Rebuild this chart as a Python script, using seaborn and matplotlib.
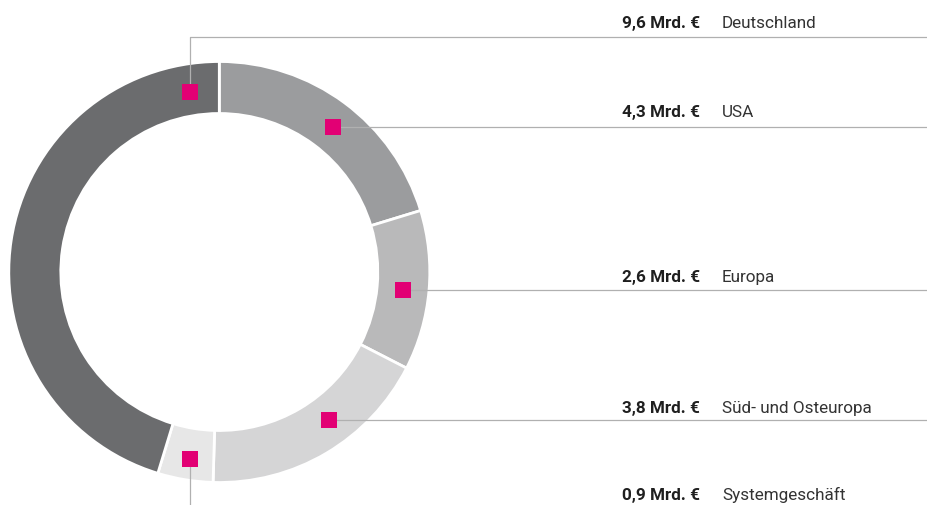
import matplotlib
matplotlib.use("Agg")
import matplotlib.pyplot as plt
import seaborn as sns
import numpy as np

# ---- data (clockwise from top) ----
regions = ["USA", "Europa", "Süd- und Osteuropa", "Systemgeschäft", "Deutschland"]
values = [4.3, 2.6, 3.8, 0.9, 9.6]
value_labels = ["4,3 Mrd. €", "2,6 Mrd. €", "3,8 Mrd. €", "0,9 Mrd. €", "9,6 Mrd. €"]
colors = ["#9b9c9e", "#b9b9ba", "#d5d5d6", "#e7e7e7", "#6b6c6e"]

# ---- layout ----
marker_frac = [0.52, 0.51, 0.406, 0.465, 0.943]   # position of marker along each wedge (clockwise)
marker_rad = [184, 185, 184.5, 189, 182]          # radial position of marker
leader = ["right", "right", "right", "down", "up"]
text_baseline_px = [117, 282, 413, 500, 28]       # from top of image
top_line_px = 38

sns.set_theme(style="white")
plt.rcParams['font.family'] = ['Roboto', 'DejaVu Sans']

W, H = 927, 506
fig = plt.figure(figsize=(W / 100, H / 100), dpi=100)
ax = fig.add_axes([0, 0, 1, 1])
cx, cy = 219.3, H - 273
R, ring = 210.5, 52

wedges, _ = ax.pie(values, colors=colors, startangle=90, counterclock=False,
                   radius=R, center=(cx, cy),
                   wedgeprops=dict(width=ring, edgecolor="white", linewidth=2))
ax.set_xlim(0, W)
ax.set_ylim(0, H)
ax.set_aspect("equal")
ax.axis("off")

line_col = "#b0b0b0"
for w, f, rm, lead, tb, vl, name in zip(wedges, marker_frac, marker_rad, leader,
                                        text_baseline_px, value_labels, regions):
    t1, t2 = w.theta1, w.theta2
    ang = np.deg2rad(t2 - f * (t2 - t1))
    mx, my = cx + rm * np.cos(ang), cy + rm * np.sin(ang)
    if lead == "right":
        ax.plot([mx, W], [my, my], color=line_col, lw=0.9, zorder=3)
    elif lead == "up":
        ly = H - top_line_px
        ax.plot([mx, mx, W], [my, ly, ly], color=line_col, lw=0.9, zorder=3)
    else:
        ax.plot([mx, mx], [my, 0], color=line_col, lw=0.9, zorder=3)
    ax.scatter([mx], [my], marker="s", s=132, color="#e20074", linewidths=0, zorder=4)
    y = H - tb
    ax.text(700, y, vl, ha="right", va="baseline", fontsize=12.3, fontweight="bold",
            color="#1f1f1f")
    ax.text(722, y, name, ha="left", va="baseline", fontsize=12.3, color="#333333")

fig.savefig("out.png", dpi=100)
